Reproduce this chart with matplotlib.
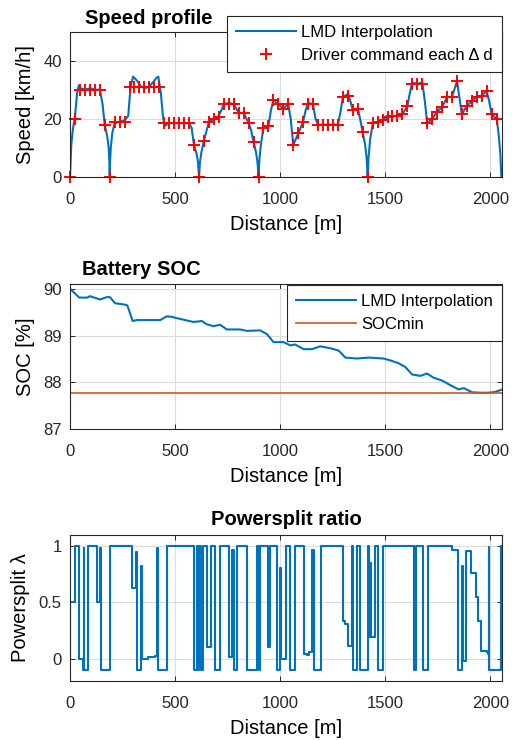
import numpy as np
import matplotlib
matplotlib.use('Agg')
from matplotlib import pyplot as plt

plt.rcParams['font.family'] = ['Liberation Sans', 'DejaVu Sans']

#------------------------------------------------------------
# Driver commands (one every delta_d metres), speed in km/h
delta_d = 23.6
cmd_speed = [0, 20, 30, 30, 30, 30, 30, 18, 0, 19, 19, 19,
             31, 31, 31, 31, 31, 31, 31, 18.5, 18.5, 18.5, 18.5, 18.5,
             18.5, 11, 0, 12.5, 19, 20, 20.5, 25, 25, 25, 22, 22,
             18.5, 12, 0, 17, 17.5, 26.5, 25, 23.5, 25, 11, 15, 19,
             25, 25, 18, 18, 18, 18, 18, 27.5, 28, 23, 23.5, 15.5,
             0, 18.5, 19, 19.5, 20.5, 21, 21, 21.5, 24.5, 32, 32, 32,
             18.5, 20, 22.5, 24, 27.5, 27.5, 33, 21.5, 24.5, 26, 27.5, 28,
             29.5, 21.5, 20]
cmd_dist = delta_d * np.arange(len(cmd_speed))

# LMD interpolated speed profile
lmd_dist = [0, 6, 13, 24, 34, 42, 50, 72, 96, 120, 142, 155, 165, 177,
            184, 187.5, 189, 190.5, 194, 201, 212, 236, 260, 277, 288,
            300, 320, 340, 356, 375, 395, 410, 420, 432, 442, 450, 460,
            472, 496, 520, 543, 566, 578, 590, 602, 609, 614, 618, 625,
            637, 661, 685, 708, 720, 732, 755, 779, 803, 826, 850, 862,
            873, 885, 892, 897, 901, 908, 920, 944, 956, 968, 991, 1015,
            1038, 1050, 1062, 1086, 1109, 1121, 1133, 1156, 1168, 1180,
            1204, 1227, 1251, 1274, 1286, 1298, 1322, 1334, 1345, 1369,
            1380, 1392, 1404, 1411, 1416, 1421, 1428, 1440, 1463, 1487,
            1510, 1534, 1557, 1581, 1605, 1617, 1628, 1652, 1676, 1688,
            1699, 1723, 1746, 1770, 1794, 1817, 1841, 1853, 1864, 1888,
            1912, 1935, 1959, 1982, 1994, 2006, 2030, 2040, 2047, 2052]
lmd_speed = [0, 11, 16, 21, 29, 31.5, 30.5, 30, 30.5, 30, 30, 25, 18, 14,
             10, 5, 0, 5, 10, 15, 18.5, 19, 19.5, 21, 31,
             34.5, 33, 31, 30.5, 31, 32.5, 34, 34.5, 29, 21, 17.5, 18,
             18.5, 18.5, 18.5, 18.5, 18.5, 17, 11, 8, 5, 0, 5, 8.5,
             12.5, 19, 20, 21, 23, 25, 25.5, 25, 22, 22, 18.5, 16,
             12, 8.5, 5, 0, 6, 11, 17, 17.5, 23, 26.5, 25, 23.5,
             25, 20, 11, 15, 19, 23, 25.5, 25, 20, 18,
             18, 18, 18, 18, 22, 27.5, 28.5, 26, 23, 23.5,
             20, 15.5, 11, 6.5, 0, 7.5, 13, 18.5, 19, 19.5,
             20.5, 21, 21, 21.5, 24.5, 29, 32.5, 32, 32.5, 26,
             18.5, 20, 22.5, 24, 27.5, 27.5, 33, 27, 21.5, 24.5,
             26, 27.5, 28, 29.5, 26, 21.5, 20, 14, 8, 0]

# Battery state of charge [%]
soc_dist = [0, 44, 82, 95, 143, 175, 190, 214, 262, 273, 298, 317, 429,
            460, 484, 500, 587, 627, 651, 683, 714, 746, 810, 841, 905,
            937, 968, 1016, 1048, 1071, 1111, 1151, 1190, 1238, 1278,
            1310, 1365, 1421, 1492, 1524, 1563, 1595, 1627, 1667, 1698,
            1730, 1770, 1810, 1849, 1873, 1913, 1952, 1992, 2024, 2056]
soc = [90.0, 89.81, 89.81, 89.84, 89.77, 89.82, 89.82, 89.69, 89.66,
       89.64, 89.31, 89.33, 89.33, 89.41, 89.40, 89.38, 89.29, 89.31,
       89.24, 89.20, 89.23, 89.13, 89.13, 89.10, 89.11, 89.03, 88.86,
       88.86, 88.79, 88.81, 88.71, 88.71, 88.77, 88.73, 88.68, 88.53,
       88.51, 88.53, 88.51, 88.47, 88.41, 88.33, 88.17, 88.14, 88.19,
       88.10, 88.04, 87.94, 87.85, 87.88, 87.79, 87.78, 87.78, 87.80,
       87.85]
soc_min = 87.78

# Powersplit ratio lambda (piecewise constant, value starts at ps_dist)
ps_dist = [0, 2, 24, 45, 60, 65, 68, 84, 127, 143, 146, 190, 297, 314,
           317, 337, 341, 370, 395, 405, 414, 419, 463, 590, 606, 611,
           616, 624, 632, 651, 670, 690, 714, 754, 770, 778, 794, 841,
           889, 897, 905, 944, 952, 987, 1000, 1005, 1029, 1048, 1071,
           1111, 1127, 1138, 1151, 1159, 1195, 1298, 1310, 1322, 1341,
           1346, 1363, 1381, 1417, 1424, 1429, 1433, 1449, 1463, 1487,
           1635, 1648, 1678, 1702, 1817, 1844, 1865, 1868, 1884, 1907,
           1925, 1933, 1941, 1957, 1984, 1989, 1992, 1995, 2050, 2055]
ps_value = [0, 0.5, 1, 0, -0.1, 0.98, -0.1, 1, 0.5, 0.98, -0.1, 1, 0.63,
            0.95, -0.1, 0.82, 0, 0.01, 0.015, 0.02, 0.98, -0.1, 1, -0.1,
            1, -0.1, 1, -0.1, 1, 0.1, 1, -0.1, 1, 0.01, 0.97, -0.1, 1,
            -0.1, 1, -0.1, 1, 0.1, 1, -0.1, 0.81, 0, 1, -0.1, 1, 0.04,
            0.03, 0.06, 0.97, -0.1, 1, 0.33, 0.31, 0.11, 1, -0.1, 1, -0.1,
            1, 0.19, 0.85, 0.19, 1, -0.1, 1, -0.1, 1, -0.1, 1, 0.97, -0.1,
            0.82, -0.02, 0.955, 0.76, 0.76, 0.55, 0.33, 0.07, 0.06, 0.04,
            0.99, -0.1, 1, 1]

blue = '#0072BD'
orange = '#D95319'
dark = '#262626'
xticks = [0, 500, 1000, 1500, 2000]


def style_axes(ax):
    ax.grid(True, color='#dcdcdc', lw=0.8)
    ax.set_axisbelow(True)
    ax.tick_params(direction='in', top=True, right=True, length=3.5,
                   width=0.7, labelsize=12, colors=dark)
    ax.tick_params(axis='x', pad=10.5)
    ax.tick_params(axis='y', pad=6)
    for s in ax.spines.values():
        s.set_linewidth(0.8)
        s.set_color(dark)
    ax.set_xlim(0, 2055)
    ax.set_xticks(xticks)
    ax.set_xlabel('Distance [m]', fontsize=14.5, labelpad=6)


def legend_at(ax, top_px):
    leg = ax.legend(loc='upper right', bbox_to_anchor=(502 / 512., 1 - top_px / 740.),
                    bbox_transform=fig.transFigure, borderaxespad=0,
                    fontsize=12, handlelength=3.6, handletextpad=0.3,
                    borderpad=0.55, labelspacing=0.45, numpoints=1,
                    fancybox=False, framealpha=1, edgecolor=dark)
    leg.get_frame().set_linewidth(0.8)
    return leg


#------------------------------------------------------------
fig = plt.figure(figsize=(5.12, 7.4), dpi=100)
left, width = 70 / 512., 432 / 512.

# Speed profile
ax = fig.add_axes([left, (740 - 177) / 740., width, 145.5 / 740.])
ax.plot(lmd_dist, lmd_speed, '-', color=blue, lw=1.5, label='LMD Interpolation')
ax.plot(cmd_dist, cmd_speed, '+', color='#ff0000', ms=9, mew=1.4,
        clip_on=False, label='Driver command each Δ d')
ax.set_ylim(0, 50)
ax.set_yticks([0, 20, 40])
style_axes(ax)
ax.set_ylabel('Speed [km/h]', fontsize=14.5, labelpad=6)
ax.text(0.035, 1.053, 'Speed profile', transform=ax.transAxes, ha='left',
        va='baseline', fontsize=14.5, fontweight='bold')
legend_at(ax, 16)

# Battery SOC
ax = fig.add_axes([left, (740 - 429.3) / 740., width, 145.3 / 740.])
ax.plot(soc_dist, soc, '-', color=blue, lw=1.5, label='LMD Interpolation')
ax.axhline(soc_min, color=orange, lw=1.2, label='SOCmin')
ax.set_ylim(87, 90.1)
ax.set_yticks([87, 88, 89, 90])
style_axes(ax)
ax.set_ylabel('SOC [%]', fontsize=14.5, labelpad=6)
ax.text(0.028, 1.062, 'Battery SOC', transform=ax.transAxes, ha='left',
        va='baseline', fontsize=14.5, fontweight='bold')
legend_at(ax, 285)

# Powersplit ratio
ax = fig.add_axes([left, (740 - 681) / 740., width, 146 / 740.])
ax.plot(ps_dist, ps_value, '-', color=blue, lw=1.5, drawstyle='steps-post')
ax.set_ylim(-0.2, 1.1)
ax.set_yticks([0, 0.5, 1])
ax.set_yticklabels(['0', '0.5', '1'])
style_axes(ax)
ax.set_ylabel('Powersplit λ', fontsize=14.5, labelpad=6)
ax.text(0.5, 1.068, 'Powersplit ratio', transform=ax.transAxes, ha='center',
        va='baseline', fontsize=14.5, fontweight='bold')

fig.savefig('out.png', dpi=100)
